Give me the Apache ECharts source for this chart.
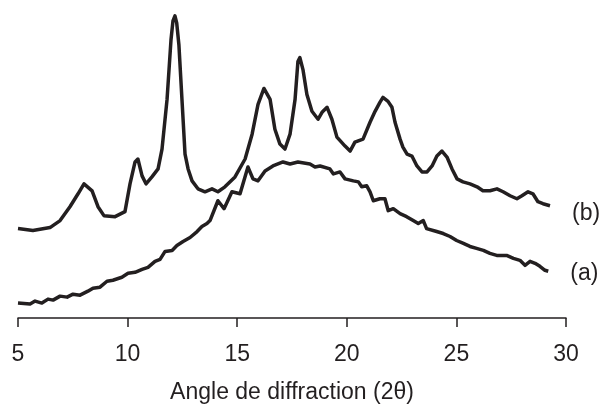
<!DOCTYPE html>
<html>
<head>
<meta charset="utf-8">
<script src="https://cdn.jsdelivr.net/npm/echarts@6/dist/echarts.min.js"></script>
<style>html,body{margin:0;padding:0;background:#fff}#c{width:600px;height:409px}</style>
</head>
<body>
<div id="c"></div>
<script>
// 2θ values and relative intensities (arbitrary units)
var seriesBName = '(b)';
var seriesAName = '(a)';
var xTicks = [5, 10, 15, 20, 25, 30];
var curveB = [
  [5.0, 90], [5.68, 88], [6.46, 91], [6.92, 98], [7.37, 112], [7.74, 125], [8.01, 135],
  [8.38, 128], [8.65, 112], [8.92, 103], [9.43, 102], [9.88, 107], [10.11, 135],
  [10.34, 157], [10.47, 160], [10.66, 143], [10.84, 135], [11.11, 142], [11.39, 150],
  [11.57, 170], [11.80, 220], [11.98, 280], [12.07, 299], [12.16, 304], [12.24, 297],
  [12.34, 275], [12.48, 220],
  [12.62, 165], [12.76, 150], [12.94, 138], [13.21, 130], [13.53, 127], [13.85, 130], [14.12, 127],
  [14.44, 132], [14.90, 142], [15.36, 160], [15.68, 185], [15.95, 215], [16.22, 231],
  [16.50, 220], [16.72, 190], [16.95, 175], [17.18, 170], [17.41, 185], [17.64, 220],
  [17.77, 258], [17.86, 262], [18.00, 250], [18.18, 225], [18.41, 208], [18.69, 200],
  [18.87, 207], [19.10, 212], [19.32, 200], [19.55, 182], [19.92, 173], [20.15, 168],
  [20.37, 177], [20.74, 180], [21.06, 197], [21.29, 208], [21.51, 217], [21.65, 222],
  [21.88, 218], [22.06, 212], [22.20, 197], [22.43, 180], [22.56, 172], [22.75, 165],
  [22.97, 163], [23.20, 153], [23.43, 147], [23.66, 147], [23.89, 153], [24.11, 163],
  [24.34, 168], [24.57, 162], [24.80, 150], [25.03, 140], [25.30, 137], [25.62, 135],
  [25.94, 132], [26.21, 128], [26.53, 128], [26.85, 130], [27.13, 127], [27.45, 123],
  [27.76, 120], [27.99, 123], [28.27, 127], [28.49, 125], [28.72, 117], [28.95, 115],
  [29.27, 113]
];
var curveA = [
  [5.0, 15], [5.55, 14], [5.78, 17], [6.09, 15], [6.37, 19], [6.60, 18], [6.92, 22],
  [7.24, 21], [7.51, 24], [7.83, 23], [8.19, 27], [8.42, 30], [8.74, 31], [9.06, 37],
  [9.33, 38], [9.74, 41], [10.02, 45], [10.34, 46], [10.66, 49], [10.93, 51], [11.25, 57],
  [11.48, 59], [11.71, 67], [12.03, 68], [12.25, 73], [12.53, 77], [12.85, 81],
  [13.17, 87], [13.39, 92], [13.62, 95], [13.76, 98], [14.12, 118], [14.40, 110],
  [14.76, 127], [15.13, 125], [15.49, 152], [15.72, 140], [15.95, 138], [16.27, 148],
  [16.63, 153], [17.09, 157], [17.41, 155], [17.77, 157], [18.32, 155], [18.55, 152],
  [18.78, 153], [19.23, 150], [19.39, 145], [19.69, 147], [19.92, 140], [20.30, 138],
  [20.53, 137], [20.68, 132], [20.91, 133], [21.06, 127], [21.21, 118], [21.51, 120],
  [21.74, 120], [21.89, 108], [22.12, 110], [22.43, 105], [22.73, 102], [23.03, 98],
  [23.26, 95], [23.49, 98], [23.64, 90], [24.10, 87], [24.40, 85], [24.71, 82],
  [25.01, 78], [25.32, 75], [25.62, 72], [25.92, 70], [26.23, 68], [26.53, 65],
  [26.84, 63], [27.29, 63], [27.60, 60], [27.90, 58], [28.13, 53], [28.36, 57],
  [28.59, 55], [28.81, 52], [29.04, 48], [29.19, 47]
];

var ink = '#231f20';
var font = 'Liberation Sans, Arial, Helvetica, sans-serif';
var chart = echarts.init(document.getElementById('c'), null, {renderer: 'canvas'});
function lineSeries(name, data, dy) {
  return {
    name: name, type: 'line', data: data, symbol: 'none', smooth: false,
    lineStyle: {color: ink, width: 3.5, join: 'round', cap: 'butt'},
    endLabel: {show: true, formatter: name, color: ink, fontSize: 23,
      fontFamily: font, distance: 22, offset: [0, dy]},
    silent: true, animation: false
  };
}
chart.setOption({
  animation: false,
  grid: {left: 18, right: 34, top: 0, bottom: 89, containLabel: false},
  xAxis: {
    type: 'value', min: xTicks[0], max: xTicks[xTicks.length - 1], interval: 5,
    name: 'Angle de diffraction (2θ)', nameLocation: 'middle', nameGap: 63,
    nameTextStyle: {color: ink, fontSize: 23, fontFamily: font},
    axisLine: {lineStyle: {color: ink, width: 1.5}},
    axisTick: {show: true, inside: false, length: 9, lineStyle: {color: ink, width: 1.5}},
    axisLabel: {color: ink, fontSize: 23, margin: 25, fontFamily: font},
    splitLine: {show: false}
  },
  yAxis: {
    type: 'value', min: 0, max: 320, show: false, splitLine: {show: false}
  },
  series: [lineSeries(seriesBName, curveB, 8), lineSeries(seriesAName, curveA, 2)]
});
</script>
</body>
</html>
